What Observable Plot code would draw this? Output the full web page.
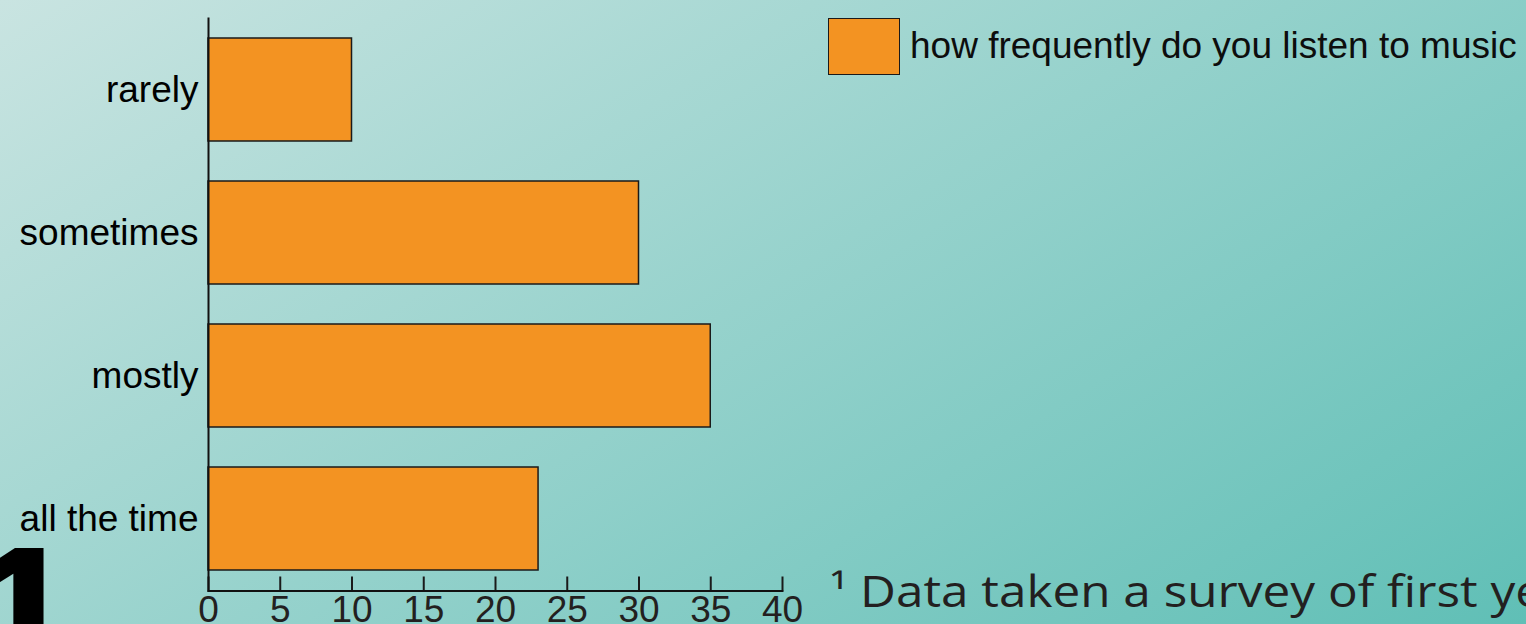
<!DOCTYPE html>
<html>
<head>
<meta charset="utf-8">
<script src="https://cdn.jsdelivr.net/npm/d3@7"></script>
<script src="https://cdn.jsdelivr.net/npm/@observablehq/plot@0.6"></script>
<style>
  html, body { margin: 0; padding: 0; overflow: hidden; }
  #page {
    position: relative; width: 1526px; height: 624px; overflow: hidden;
    background: linear-gradient(148deg, #c9e4e1 0%, #60bfb6 100%);
    font-family: "Liberation Sans", Arial, sans-serif;
  }
  #big1 {
    position: absolute; left: -38px; top: 514px;
    font: bold 220px/1 "Liberation Sans", Arial, sans-serif; color: #000;
  }
  #chart { position: absolute; left: 0; top: 0; }
  #legend-swatch {
    position: absolute; left: 828px; top: 18px; width: 70px; height: 55px;
    background: #f39322; border: 1.5px solid #1a1a1a;
  }
  #legend-label {
    position: absolute; left: 910px; top: 27px;
    font: 37px/1 "Liberation Sans", Arial, sans-serif; color: #0d0d0d; white-space: nowrap;
  }
  #note {
    position: absolute; left: 830px; top: 569px; white-space: nowrap;
    font: 43px/1 "Open Sans", "Noto Sans", sans-serif; color: #231f20;
    transform-origin: left top; transform: scaleX(1.15);
  }
</style>
</head>
<body>
<div id="page">
  <div id="big1">1</div>
  <div id="chart"></div>
  <div id="legend-swatch"></div>
  <div id="legend-label"></div>
  <div id="note"></div>
</div>
<script>
// Survey answers: how often respondents listen to music
const categories = ["rarely", "sometimes", "mostly", "all the time"];
const counts = [10, 30, 35, 23];
const xTicks = [0, 5, 10, 15, 20, 25, 30, 35, 40];
const seriesName = "how frequently do you listen to music";
const footnote = "\u00b9 Data taken a survey of first year";

const rows = categories.map((category, i) => ({category, value: counts[i]}));

const W = 809, H = 624;
const mTop = 18, mBottom = 33.5, mLeft = 208, mRight = 27;
const frameH = H - mTop - mBottom;
const tickLen = 14;

const chart = Plot.plot({
  width: W,
  height: H,
  marginLeft: mLeft,
  marginRight: mRight,
  marginTop: mTop,
  marginBottom: mBottom,
  style: {
    background: "transparent",
    fontFamily: "'Liberation Sans', Arial, sans-serif",
    fontSize: "37px",
    color: "#111",
    overflow: "visible"
  },
  x: {domain: [0, 40], label: null},
  y: {domain: categories, paddingInner: 0.28, paddingOuter: 0.1375, label: null},
  marks: [
    Plot.barX(rows, {x: "value", y: "category", fill: "#f39322", stroke: "#1a1a1a", strokeWidth: 1.5}),
    // inward tick marks rising from the baseline
    Plot.ruleX(xTicks, {stroke: "#1a1a1a", strokeWidth: 2, insetTop: frameH - tickLen}),
    Plot.frame({anchor: "left", stroke: "#111", strokeWidth: 2}),
    Plot.frame({anchor: "bottom", stroke: "#111", strokeWidth: 2}),
    Plot.axisX(xTicks, {tickSize: 0, tickPadding: 5, fill: "#231f20"}),
    Plot.axisY({tickSize: 0, tickPadding: 10, fill: "#000"})
  ]
});
document.getElementById("chart").appendChild(chart);
document.getElementById("legend-label").textContent = seriesName;
document.getElementById("note").textContent = footnote;
</script>
</body>
</html>
